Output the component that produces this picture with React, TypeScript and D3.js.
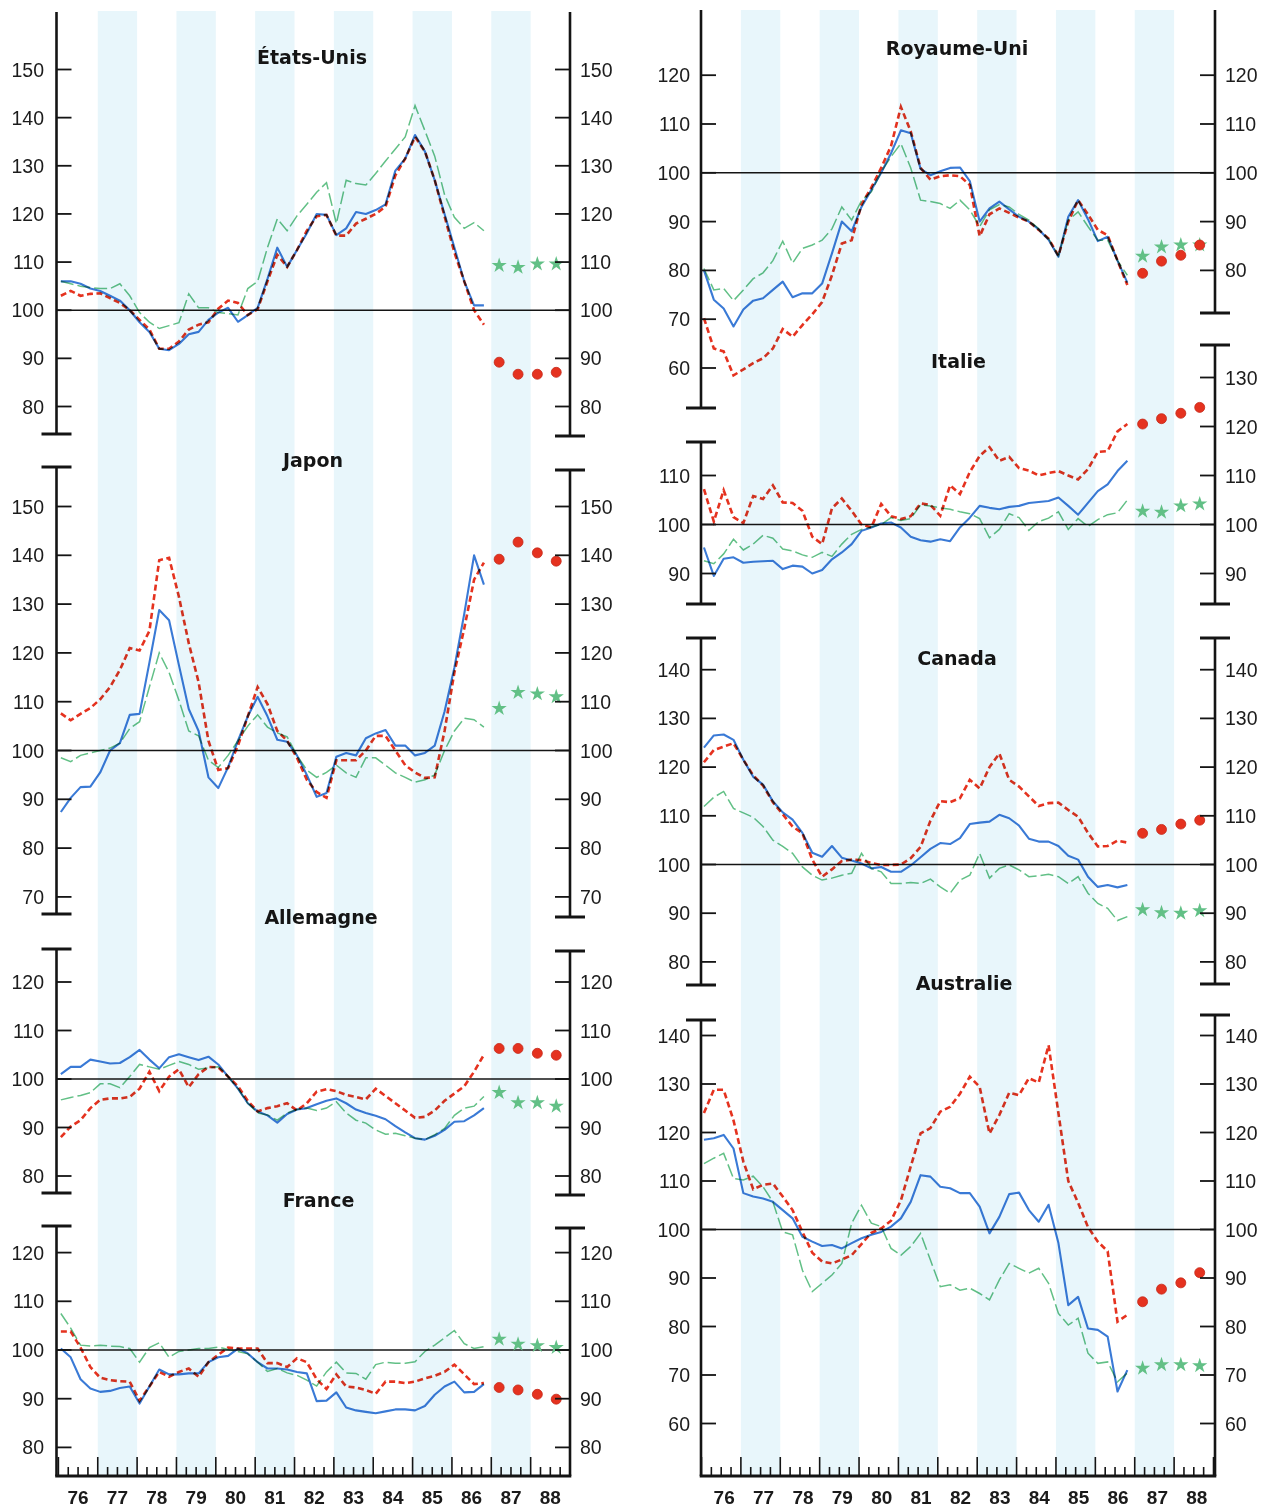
import React from "react";
import * as d3 from "d3";

// ---------- quarterly series, 1976 Q1 – 1986 Q4 (index, 1980 = 100) ----------
const usBlue = [106, 106, 105.5, 104.5, 104, 103, 102, 100, 97.5, 95.5, 92, 91.7, 93, 95, 95.5, 98, 99.5, 100.5, 97.6, 99, 100.5, 106.5, 113, 109, 112.5, 116, 120, 119.8, 115.6, 117, 120.4, 120, 120.8, 122, 129, 131.5, 136.4, 133, 127, 120, 113, 106, 101, 101];
const usRed = [103, 104, 103, 103.4, 103.5, 102.5, 101.5, 100, 98, 96, 92, 92, 93.5, 96, 97, 97.5, 100.3, 102, 101.5, 99, 100.2, 106, 111.5, 109, 112.5, 116.5, 119.5, 119.8, 115.5, 115.5, 118, 119, 120, 121.5, 128, 131.5, 136, 133, 127, 119.5, 112, 106, 100, 97];
const usGreen = [106, 105.5, 105, 104.7, 104.5, 104.5, 105.5, 103, 99.5, 97.5, 96.2, 96.8, 97.4, 103.4, 100.5, 100.5, 99.5, 99.3, 99, 104.5, 106, 113, 119, 116.5, 119.6, 122, 124.5, 126.5, 118, 127, 126.3, 126, 128.4, 131, 133.5, 136, 142.5, 137.3, 132, 124, 119.3, 117, 118.2, 116.5];
const usDots = [89.2, 86.7, 86.7, 87.1];
const usStars = [109.3, 108.9, 109.6, 109.6];

const jpBlue = [87.4, 90.3, 92.5, 92.6, 95.5, 100, 101.5, 107.3, 107.5, 118, 128.8, 126.7, 117.5, 108.5, 104, 94.5, 92.3, 96.6, 102, 107, 111, 107, 102.2, 101.8, 99, 95, 90.5, 91.3, 98.7, 99.5, 99, 102.5, 103.5, 104.2, 101, 101, 99, 99.5, 101, 108, 117, 128, 140, 134];
const jpRed = [107.6, 106.2, 107.5, 108.7, 110.5, 113, 116.5, 121, 120.5, 124.5, 139, 139.5, 131.5, 122, 114, 102, 96, 96.4, 101, 107, 113, 109.5, 104, 102, 98.5, 94, 91.5, 90.3, 98, 98, 98, 100, 103, 103, 100, 97, 95.5, 94.4, 94.5, 104, 116, 125, 135, 138.5];
const jpGreen = [98.5, 97.7, 99, 99.5, 100, 100.5, 101.5, 104.5, 105.9, 113, 120, 116, 110.3, 104, 103, 98, 96.5, 99, 102, 105, 107.3, 104.8, 103.6, 102.8, 99, 96, 94.5, 95.5, 97, 95.4, 94.5, 98.5, 98.5, 97, 95.4, 94.5, 93.5, 94, 95, 100, 104, 106.6, 106.3, 104.8];
const jpDots = [139.2, 142.7, 140.5, 138.8];
const jpStars = [108.6, 111.9, 111.6, 111];

const deBlue = [101, 102.5, 102.5, 104, 103.6, 103.2, 103.3, 104.5, 106, 104, 102.2, 104.5, 105.1, 104.5, 103.9, 104.6, 103, 100.5, 98, 95, 93.3, 92.5, 91, 92.8, 93.7, 94, 94.8, 95.5, 96, 95, 93.7, 93, 92.4, 91.7, 90.3, 89, 87.8, 87.5, 88.3, 89.5, 91.2, 91.3, 92.5, 94];
const deRed = [88, 90.2, 91.5, 94, 95.7, 96, 96, 96.3, 98, 101.5, 97.5, 100.5, 102, 98.3, 101, 102.5, 102.4, 100.5, 98.5, 95.5, 93.3, 94, 94.4, 95, 93.5, 95, 97.4, 97.9, 97.5, 96.7, 96.3, 95.8, 98, 96.5, 95, 93.5, 92, 92.2, 93.5, 95.5, 97, 98.5, 101.5, 105];
const deGreen = [95.7, 96.2, 96.6, 97.2, 99, 99, 98.2, 100.5, 103, 102.5, 102, 102.8, 103.6, 103, 102, 102.3, 102.5, 100.5, 98, 95, 93, 92.6, 91.5, 93, 93.7, 94, 93.5, 94, 95.3, 93, 91.5, 90.9, 89.5, 88.6, 88.8, 88.3, 87.8, 87.5, 88.5, 89.8, 92.5, 94, 94.4, 96.4];
const deDots = [106.3, 106.3, 105.3, 104.9];
const deStars = [97.2, 95.1, 95.1, 94.4];

const frBlue = [100.3, 98.5, 94, 92.1, 91.4, 91.6, 92.2, 92.5, 89, 92.5, 96, 95, 95, 95.2, 95.2, 97.5, 98.5, 98.8, 100.3, 99.3, 97.5, 96.2, 96.2, 96, 95.5, 95.2, 89.5, 89.6, 91.3, 88.2, 87.6, 87.3, 87, 87.4, 87.8, 87.8, 87.6, 88.5, 90.8, 92.5, 93.5, 91.3, 91.4, 93];
const frRed = [103.8, 103.8, 100.5, 96.5, 94.3, 93.8, 93.6, 93.5, 89.6, 92.5, 95.5, 94.5, 95.5, 96.2, 94.5, 97.5, 99, 100.5, 100.3, 100.3, 100.3, 97.3, 97.3, 96.5, 98.3, 97.5, 94, 92, 95, 92.5, 92.3, 91.8, 91, 93.5, 93.5, 93.2, 93.5, 94.2, 94.7, 95.5, 97, 95, 93, 93.2];
const frGreen = [107.5, 104.5, 101, 100.8, 101, 100.8, 100.7, 100.3, 97.5, 100.5, 101.5, 98.5, 99.7, 100, 100.3, 100.3, 100.6, 100.1, 99.7, 99.2, 97.5, 95.6, 96.2, 95.3, 94.8, 93.8, 92.6, 95.5, 97.5, 95.3, 95.2, 94, 97, 97.5, 97.3, 97.3, 97.6, 99.7, 101, 102.5, 104, 101.3, 100.3, 100.7];
const frDots = [92.3, 91.8, 90.9, 89.9];
const frStars = [102.2, 101.2, 100.9, 100.5];

const ukBlue = [80, 74, 72.2, 68.5, 72, 73.8, 74.3, 76, 77.7, 74.5, 75.3, 75.3, 77.3, 83.5, 90, 88, 93, 96.5, 100, 104, 108.7, 108.1, 100.8, 99.5, 100.3, 101, 101.1, 98.3, 90, 92.7, 94.1, 92.5, 91, 90, 88.4, 86.3, 82.8, 91, 94.4, 90.5, 86, 86.9, 82, 77.5];
const ukRed = [70.2, 64, 63.4, 58.5, 59.7, 61, 62, 64, 68, 66.4, 68.8, 71, 73.5, 79, 85.5, 86.2, 93.5, 97, 101, 105.5, 113.5, 108.5, 101, 98.6, 99.3, 99.5, 99.3, 97.5, 87, 91.5, 92.7, 91.8, 90.8, 90, 88.3, 86.5, 83, 90, 94.4, 91.5, 88.3, 87.2, 82, 77];
const ukGreen = [80.4, 76, 76.3, 73.8, 76, 78.3, 79.5, 82, 86, 81.5, 84.5, 85.2, 86.2, 88.5, 93, 90.3, 94.3, 96.1, 100.2, 103.3, 106, 101, 94.4, 94.1, 93.7, 92.7, 94.4, 92.4, 89, 92.4, 93.5, 93, 91.5, 90.3, 88.5, 86.5, 83, 90.3, 92, 89, 86.2, 86.2, 82, 79];
const ukDots = [79.4, 81.9, 83.1, 85.2];
const ukStars = [82.9, 84.8, 85.2, 85.2];

const itBlue = [95.3, 89.5, 93, 93.3, 92.2, 92.4, 92.5, 92.6, 90.9, 91.6, 91.4, 90, 90.7, 92.9, 94.3, 96, 98.7, 99.4, 100.2, 100.4, 99.4, 97.5, 96.8, 96.5, 97, 96.6, 99.4, 101.4, 103.8, 103.4, 103.1, 103.6, 103.8, 104.4, 104.6, 104.8, 105.5, 103.8, 102, 104.4, 106.8, 108.2, 110.9, 113];
const itRed = [107.2, 100.6, 107, 101.5, 100.3, 105.8, 105.2, 108, 104.5, 104.4, 102.8, 97.5, 96, 103.3, 105.3, 102.8, 100, 99.4, 104.2, 101.7, 101.1, 101.7, 104.3, 104, 101.8, 108, 106.2, 110.7, 114, 115.8, 113, 113.8, 111.5, 111, 110, 110.5, 110.9, 110, 109.2, 111.3, 114.8, 115, 119, 120.5];
const itGreen = [92.6, 92, 94, 97, 94.8, 96, 97.8, 97.2, 95, 94.6, 93.8, 93.3, 94.3, 93.5, 96, 98, 99, 99.5, 100, 101.4, 100.8, 101.2, 104, 103.8, 103.4, 103.1, 102.6, 102.2, 101.2, 97.3, 99, 102.2, 101.4, 98.8, 100.6, 101.3, 102.6, 99, 101.2, 99.6, 101, 102, 102.4, 105];
const itDots = [120.5, 121.6, 122.7, 123.9];
const itStars = [102.7, 102.5, 103.8, 104.2];

const caBlue = [124, 126.5, 126.7, 125.6, 121.5, 118, 116.4, 113, 110.7, 109.2, 106.5, 102.4, 101.6, 103.8, 101.4, 100.8, 100.2, 99.2, 99.5, 98.5, 98.5, 99.8, 101.5, 103.2, 104.4, 104.2, 105.4, 108.3, 108.6, 108.8, 110.2, 109.5, 108, 105.3, 104.7, 104.7, 103.8, 101.8, 101, 97.5, 95.4, 95.8, 95.3, 95.8];
const caRed = [121, 123.5, 124.2, 124.9, 121.5, 118.3, 116.2, 112.8, 110.3, 107.8, 106.4, 101, 97.5, 99, 100.7, 101, 100.9, 100.3, 99.9, 99.9, 100, 101.3, 103.6, 109, 113, 112.8, 113.6, 117.4, 115.6, 120, 122.8, 117.4, 116, 114, 112, 112.6, 112.7, 111.2, 109.8, 106.5, 103.7, 103.8, 104.9, 104.5];
const caGreen = [111.9, 113.8, 115, 111.5, 110.6, 109.7, 107.8, 105, 103.7, 102.3, 99.5, 97.8, 96.8, 97.2, 97.8, 98.2, 102.3, 99.2, 98.5, 96.1, 96.1, 96.3, 96.1, 97, 95.4, 94.1, 96.8, 97.8, 102.3, 97.2, 99.2, 99.9, 98.9, 97.5, 97.7, 98, 97.5, 96.1, 97.5, 94.1, 92, 91, 88.5, 89.3];
const caDots = [106.4, 107.2, 108.3, 109.1];
const caStars = [90.7, 90.1, 90, 90.5];

const auBlue = [118.5, 118.8, 119.5, 116.7, 107.5, 106.8, 106.4, 105.7, 104, 102.3, 98.5, 97.5, 96.6, 96.8, 96.1, 97.2, 98.2, 98.9, 99.5, 100.6, 102.3, 105.7, 111.2, 110.9, 108.8, 108.5, 107.5, 107.5, 104.7, 99.2, 102.6, 107.3, 107.6, 104, 101.6, 105.1, 97.2, 84.4, 86.1, 79.6, 79.3, 77.9, 66.6, 71];
const auRed = [124, 128.8, 128.8, 122.5, 114, 108.3, 109.2, 109.5, 106.8, 104, 99.5, 95.2, 93.4, 93, 93.8, 94.7, 97, 99.3, 100.2, 101.8, 106, 113, 119.8, 120.9, 124.3, 125.3, 128, 131.5, 129.4, 119.8, 123.6, 128.2, 127.7, 131.2, 130.3, 138, 124, 110, 105.5, 100.5, 97.5, 95.5, 81, 82.4];
const auGreen = [113.6, 114.7, 115.7, 110.5, 110.2, 111, 108.8, 105.7, 99.5, 98.9, 91.6, 87.2, 88.9, 90.6, 93, 101.3, 105, 101.3, 100.6, 96.1, 94.7, 96.5, 99.2, 93.7, 88.2, 88.6, 87.5, 87.9, 86.8, 85.5, 89.6, 93, 92, 91, 92, 88.9, 82.7, 80.3, 81.7, 74.5, 72.4, 72.7, 68.6, 70.4];
const auDots = [85.1, 87.7, 89, 91.1];
const auStars = [71.4, 72.1, 72.1, 71.9];

// ---------- time axis ----------
const yearLabels = ["76", "77", "78", "79", "80", "81", "82", "83", "84", "85", "86", "87", "88"];
const shadedYears = [1977, 1979, 1981, 1983, 1985, 1987];
const forecastTimes = [1987.2, 1987.68, 1988.17, 1988.65];
const START = 1976;
const END = 1989;
const quarterTime = (i: number) => START + (i + 0.25) / 4;

// ---------- styling ----------
const W = 1261;
const H = 1510;
const BLUE = "#3a7ad6";
const RED = "#e5321f";
const GREEN = "#62c086";
const STRIPE = "#e8f6fb";
const INK = "#141414";
const NUM_FONT = "'Liberation Sans', Arial, sans-serif";
const TITLE_FONT = "'DejaVu Sans', Verdana, sans-serif";

const COLUMNS = [
  { axisL: 56.5, axisR: 570, range: [58.4, 570] as [number, number], labelL: 44, labelR: 580, stripeTop: 11 },
  { axisL: 701, axisR: 1215, range: [701.5, 1213.5] as [number, number], labelL: 690, labelR: 1225, stripeTop: 10 },
];
const BOTTOM = 1476;

interface AxisSide { top: number; bottom: number; capTop: boolean; capBottom: boolean; ticks: number[] }
interface PanelSpec {
  title: string; titleX: number; titleY: number; col: 0 | 1;
  domain: [number, number]; range: [number, number];
  left: AxisSide; right: AxisSide;
  blue: number[]; red: number[]; green: number[]; dots: number[]; stars: number[];
}

const ticks = (a: number, b: number) => d3.range(a, b + 1, 10);

const PANELS: PanelSpec[] = [
  {
    title: "États-Unis", titleX: 312, titleY: 63.5, col: 0,
    domain: [80, 150], range: [406.5, 69.5],
    left: { top: 12, bottom: 434, capTop: false, capBottom: true, ticks: ticks(80, 150) },
    right: { top: 12, bottom: 436, capTop: false, capBottom: true, ticks: ticks(80, 150) },
    blue: usBlue, red: usRed, green: usGreen, dots: usDots, stars: usStars,
  },
  {
    title: "Japon", titleX: 313, titleY: 466.5, col: 0,
    domain: [70, 150], range: [896.9, 506.5],
    left: { top: 467, bottom: 914, capTop: true, capBottom: true, ticks: ticks(70, 150) },
    right: { top: 470, bottom: 917, capTop: true, capBottom: true, ticks: ticks(70, 150) },
    blue: jpBlue, red: jpRed, green: jpGreen, dots: jpDots, stars: jpStars,
  },
  {
    title: "Allemagne", titleX: 321, titleY: 924, col: 0,
    domain: [80, 120], range: [1176, 982],
    left: { top: 949, bottom: 1193, capTop: true, capBottom: true, ticks: ticks(80, 120) },
    right: { top: 951, bottom: 1195, capTop: true, capBottom: true, ticks: ticks(80, 120) },
    blue: deBlue, red: deRed, green: deGreen, dots: deDots, stars: deStars,
  },
  {
    title: "France", titleX: 318.5, titleY: 1206.5, col: 0,
    domain: [80, 120], range: [1447.4, 1252.6],
    left: { top: 1226, bottom: BOTTOM, capTop: true, capBottom: false, ticks: ticks(80, 120) },
    right: { top: 1228, bottom: BOTTOM, capTop: true, capBottom: false, ticks: ticks(80, 120) },
    blue: frBlue, red: frRed, green: frGreen, dots: frDots, stars: frStars,
  },
  {
    title: "Royaume-Uni", titleX: 957, titleY: 54.5, col: 1,
    domain: [60, 120], range: [368, 75.2],
    left: { top: 10, bottom: 408, capTop: false, capBottom: true, ticks: ticks(60, 120) },
    right: { top: 10, bottom: 313, capTop: false, capBottom: true, ticks: ticks(80, 120) },
    blue: ukBlue, red: ukRed, green: ukGreen, dots: ukDots, stars: ukStars,
  },
  {
    title: "Italie", titleX: 958.5, titleY: 368, col: 1,
    domain: [90, 130], range: [573.5, 377.5],
    left: { top: 442, bottom: 604, capTop: true, capBottom: true, ticks: ticks(90, 110) },
    right: { top: 345, bottom: 604, capTop: true, capBottom: true, ticks: ticks(90, 130) },
    blue: itBlue, red: itRed, green: itGreen, dots: itDots, stars: itStars,
  },
  {
    title: "Canada", titleX: 957, titleY: 665, col: 1,
    domain: [80, 140], range: [961.9, 669.7],
    left: { top: 638, bottom: 985, capTop: true, capBottom: true, ticks: ticks(80, 140) },
    right: { top: 638, bottom: 984, capTop: true, capBottom: true, ticks: ticks(80, 140) },
    blue: caBlue, red: caRed, green: caGreen, dots: caDots, stars: caStars,
  },
  {
    title: "Australie", titleX: 964, titleY: 990, col: 1,
    domain: [60, 140], range: [1423.5, 1035.5],
    left: { top: 1020, bottom: BOTTOM, capTop: true, capBottom: false, ticks: ticks(60, 140) },
    right: { top: 1015, bottom: BOTTOM, capTop: true, capBottom: false, ticks: ticks(60, 140) },
    blue: auBlue, red: auRed, green: auGreen, dots: auDots, stars: auStars,
  },
];

const starPath = d3.symbol().type(d3.symbolStar).size(72)() as string;

function VerticalAxis({ x, side, y, dir, labelX }: { x: number; side: AxisSide; y: d3.ScaleLinear<number, number>; dir: 1 | -1; labelX: number }) {
  return (
    <g>
      <line x1={x} x2={x} y1={side.top} y2={side.bottom} stroke={INK} strokeWidth={2.6} />
      {side.capTop && <line x1={x - 15} x2={x + 15} y1={side.top} y2={side.top} stroke={INK} strokeWidth={3} />}
      {side.capBottom && <line x1={x - 15} x2={x + 15} y1={side.bottom} y2={side.bottom} stroke={INK} strokeWidth={3} />}
      {side.ticks.map((t) => (
        <g key={t}>
          <line x1={x} x2={x + dir * 15} y1={y(t)} y2={y(t)} stroke={INK} strokeWidth={1.8} />
          <text
            x={labelX}
            y={y(t)}
            dy="0.36em"
            textAnchor={dir === 1 ? "end" : "start"}
            fontFamily={NUM_FONT}
            fontSize={19.5}
            fill="#1c1c1c"
          >
            {t}
          </text>
        </g>
      ))}
    </g>
  );
}

function Panel({ p }: { p: PanelSpec }) {
  const col = COLUMNS[p.col];
  const x = d3.scaleLinear().domain([START, END]).range(col.range);
  const y = d3.scaleLinear().domain(p.domain).range(p.range);
  const line = d3
    .line<number>()
    .x((_, i) => x(quarterTime(i)))
    .y((v) => y(v));
  const blend: React.CSSProperties = { mixBlendMode: "multiply" };
  return (
    <g>
      <line x1={col.axisL} x2={col.axisR} y1={y(100)} y2={y(100)} stroke={INK} strokeWidth={1.5} />
      <path d={line(p.green) as string} fill="none" stroke={GREEN} strokeWidth={1.5} strokeDasharray="13,4" style={blend} />
      <path d={line(p.blue) as string} fill="none" stroke={BLUE} strokeWidth={2.1} strokeLinejoin="round" style={blend} />
      <path d={line(p.red) as string} fill="none" stroke={RED} strokeWidth={2.6} strokeDasharray="6,3.5" style={blend} />
      {p.stars.map((v, i) => (
        <path key={"s" + i} d={starPath} transform={`translate(${x(forecastTimes[i])},${y(v)})`} fill={GREEN} />
      ))}
      {p.dots.map((v, i) => (
        <circle key={"d" + i} cx={x(forecastTimes[i])} cy={y(v)} r={5} fill={RED} stroke="#c42a1a" strokeWidth={0.8} />
      ))}
      <VerticalAxis x={col.axisL} side={p.left} y={y} dir={1} labelX={col.labelL} />
      <VerticalAxis x={col.axisR} side={p.right} y={y} dir={-1} labelX={col.labelR} />
      <text x={p.titleX} y={p.titleY} textAnchor="middle" fontFamily={TITLE_FONT} fontWeight="bold" fontSize={19} fill="#151515">
        {p.title}
      </text>
    </g>
  );
}

function Stripes({ ci }: { ci: number }) {
  const col = COLUMNS[ci];
  const x = d3.scaleLinear().domain([START, END]).range(col.range);
  return (
    <g>
      {shadedYears.map((yr) => (
        <rect key={yr} x={x(yr)} y={col.stripeTop} width={x(yr + 1) - x(yr)} height={BOTTOM - col.stripeTop} fill={STRIPE} />
      ))}
    </g>
  );
}

function TimeAxis({ ci }: { ci: number }) {
  const col = COLUMNS[ci];
  const x = d3.scaleLinear().domain([START, END]).range(col.range);
  const quarters = d3.range(0, (END - START) * 4 + 1);
  return (
    <g>
      {quarters.map((q) => (
        <line
          key={q}
          x1={x(START + q / 4)}
          x2={x(START + q / 4)}
          y1={BOTTOM}
          y2={BOTTOM - (q % 4 === 0 ? 19 : 9)}
          stroke={INK}
          strokeWidth={1.6}
        />
      ))}
      <line x1={col.axisL - 1.3} x2={col.axisR + 1.3} y1={BOTTOM} y2={BOTTOM} stroke={INK} strokeWidth={3} />
      {yearLabels.map((lab, i) => (
        <text
          key={lab}
          x={x(START + i + 0.5) + (ci === 1 ? 3 : 0)}
          y={1504}
          textAnchor="middle"
          fontFamily={NUM_FONT}
          fontWeight="bold"
          fontSize={19}
          fill="#1a1a1a"
        >
          {lab}
        </text>
      ))}
    </g>
  );
}

export default function App() {
  return (
    <svg
      width={W}
      height={H}
      viewBox={`0 0 ${W} ${H}`}
      style={{ position: "absolute", left: 0, top: 0, background: "#fff" }}
    >
      <rect width={W} height={H} fill="#fff" />
      <Stripes ci={0} />
      <Stripes ci={1} />
      {PANELS.map((p) => (
        <Panel key={p.title} p={p} />
      ))}
      <TimeAxis ci={0} />
      <TimeAxis ci={1} />
    </svg>
  );
}
